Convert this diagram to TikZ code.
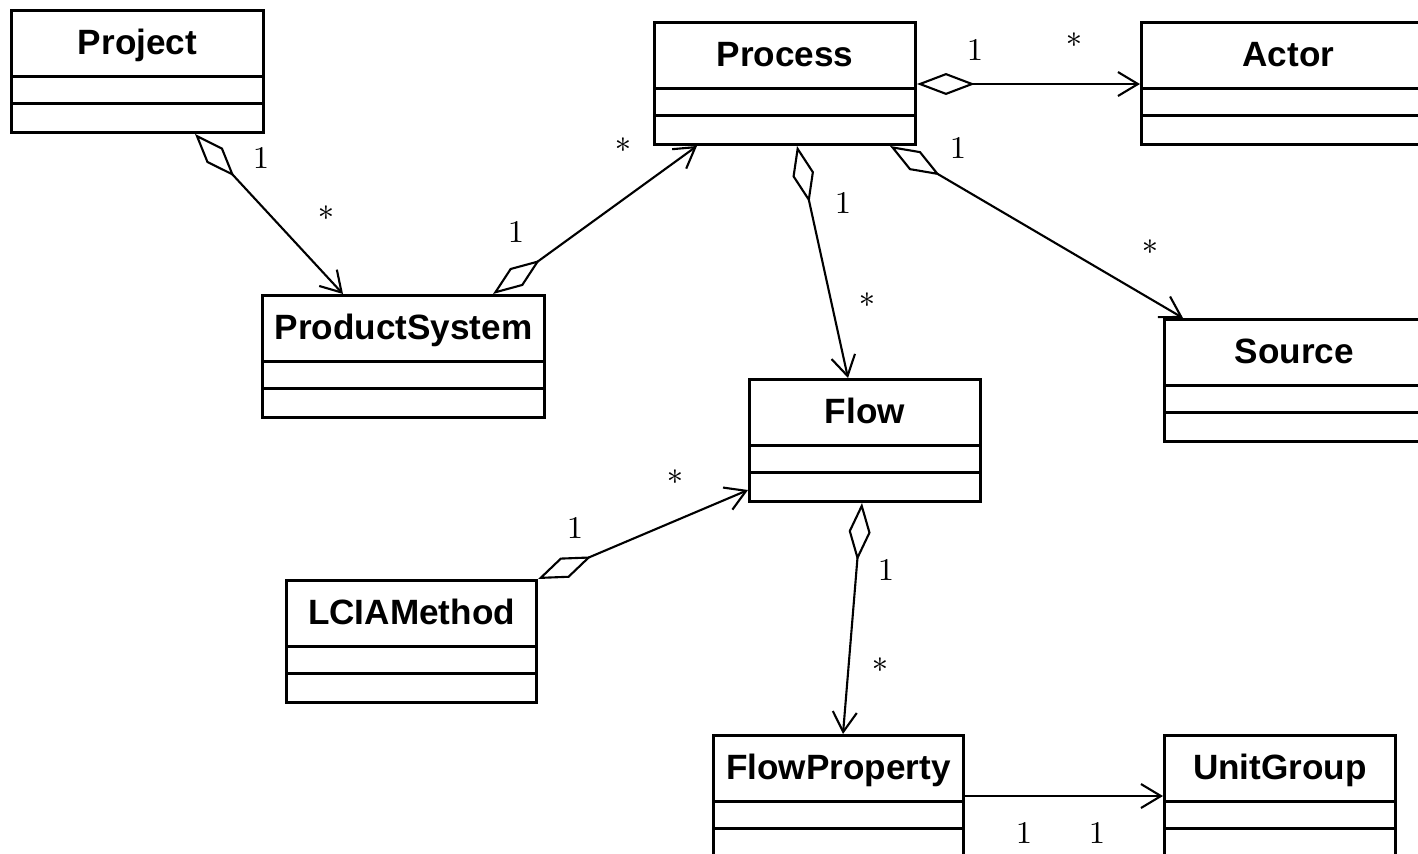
\documentclass[tikz,border=0pt]{standalone}
\usepackage{fontspec}
\setsansfont{Liberation Sans}
\usetikzlibrary{shapes.multipart,arrows.meta,calc}

\tikzset{
  umlclass/.style={draw, line width=0.85pt, rectangle split, rectangle split parts=3,
    inner xsep=0pt, inner ysep=0pt, anchor=north west,
    font=\sffamily\bfseries\fontsize{10}{12}\selectfont},
  assoc/.style={line width=0.6pt, -{Straight Barb[length=2mm,width=2.4mm]}},
  aggr/.style={assoc, {Diamond[open,length=5.8mm,width=2.2mm]}-{Straight Barb[length=2mm,width=2.4mm]}},
  mult/.style={font=\fontsize{9}{10}\selectfont, inner sep=0pt}
}
% title, then the two empty compartments
\newcommand{\classparts}[1]{\rule[-2.05mm]{0pt}{6.3mm}#1\nodepart{second}\rule{0pt}{2.4mm}\nodepart{third}\rule{0pt}{2.6mm}}

\begin{document}
\begin{tikzpicture}[x=0.1mm, y=-0.1mm]
\useasboundingbox (0,0) rectangle (1418,853);
\clip (0,0) rectangle (1418,853);

% classes
\node[umlclass, minimum width=25.2mm] (Project)       at (10,9)     {\classparts{Project}};
\node[umlclass, minimum width=26.1mm] (Process)       at (653,21)   {\classparts{Process}};
\node[umlclass, minimum width=29.4mm] (Actor)         at (1140,21)  {\classparts{Actor}};
\node[umlclass, minimum width=28.2mm] (ProductSystem) at (261,294)  {\classparts{ProductSystem}};
\node[umlclass, minimum width=26mm]   (Source)        at (1163,318) {\classparts{Source}};
\node[umlclass, minimum width=23.1mm] (Flow)          at (748,378)  {\classparts{Flow}};
\node[umlclass, minimum width=25mm]   (LCIAMethod)    at (285,579)  {\classparts{LCIAMethod}};
\node[umlclass, minimum width=25mm]   (FlowProperty)  at (712,734)  {\classparts{FlowProperty}};
\node[umlclass, minimum width=23.1mm] (UnitGroup)     at (1163,734) {\classparts{UnitGroup}};

% associations
\draw[aggr] ($(Project.south west)+(185,0)$) -- ($(ProductSystem.north west)+(82,0)$);
\draw[aggr] ($(ProductSystem.north west)+(232,0)$) -- ($(Process.south west)+(44,0)$);
\draw[aggr] ($(Process.north east)+(0,63)$) -- ($(Actor.north west)+(0,63)$);
\draw[aggr] ($(Process.south west)+(144,0)$) -- ($(Flow.north west)+(100,0)$);
\draw[aggr] ($(Process.south west)+(237,0)$) -- ($(Source.north west)+(20,0)$);
\draw[aggr] (LCIAMethod.north east) -- ($(Flow.north west)+(0,112)$);
\draw[aggr] ($(Flow.south west)+(114,0)$) -- ($(FlowProperty.north west)+(131,0)$);
\draw[assoc] ($(FlowProperty.north east)+(0,62)$) -- ($(UnitGroup.north west)+(0,62)$);

% multiplicities
\node[mult] (pj1)  at (261,158)  {1};
\node[mult] (pjs)  at (326,218)  {*};
\node[mult] (ps1)  at (516,232)  {1};
\node[mult] (pss)  at (623,150)  {*};
\node[mult] (pa1)  at (975,50)   {1};
\node[mult] (pas)  at (1074,45)  {*};
\node[mult] (pf1)  at (843,203)  {1};
\node[mult] (pfs)  at (867,305)  {*};
\node[mult] (pr1)  at (958,148)  {1};
\node[mult] (prs)  at (1150,252) {*};
\node[mult] (lm1)  at (575,528)  {1};
\node[mult] (lms)  at (675,482)  {*};
\node[mult] (fl1)  at (886,570)  {1};
\node[mult] (fls)  at (880,670)  {*};
\node[mult] (fpa)  at (1024,833) {1};
\node[mult] (fpb)  at (1097,833) {1};
\end{tikzpicture}
\end{document}
